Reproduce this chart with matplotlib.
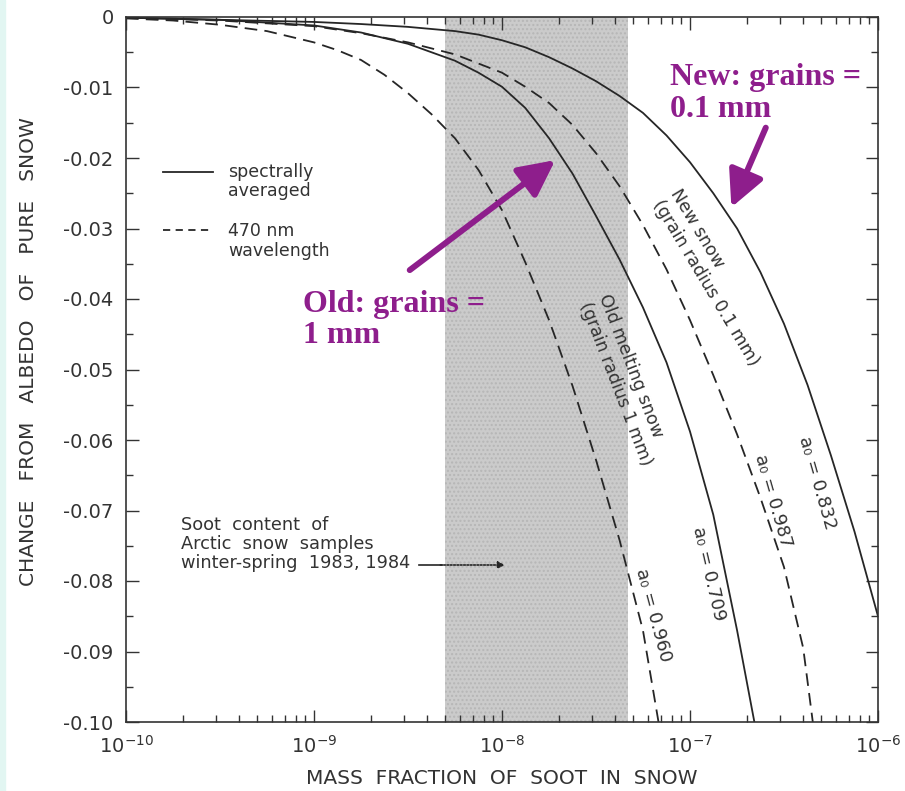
import numpy as np
import matplotlib
matplotlib.use("Agg")
import matplotlib.pyplot as plt
from matplotlib.ticker import (MultipleLocator, FuncFormatter, LogLocator, LogFormatterMathtext,
                               NullFormatter)
from matplotlib.patches import Rectangle

# soot mass fraction vs. change in snow albedo
old_470_x = [1e-10, 1.78e-10, 3.16e-10, 5.62e-10, 1e-9, 1.33e-9, 1.78e-9, 2.37e-9, 3.16e-9, 4.22e-9,
             5.62e-9, 7.5e-9, 1e-8, 1.33e-8, 1.78e-8, 2.37e-8, 3.16e-8, 4.22e-8, 5.62e-8, 6.8e-8]
old_470_y = [-0.0002, -0.0005, -0.0011, -0.0020, -0.0036, -0.0047, -0.0061, -0.0082, -0.0108, -0.0138,
             -0.0172, -0.0217, -0.0274, -0.0348, -0.043, -0.0523, -0.0628, -0.0742, -0.087, -0.100]

old_avg_x = [1e-10, 3.16e-10, 1e-9, 1.78e-9, 3.16e-9, 5.62e-9, 7.5e-9, 1e-8, 1.33e-8, 1.78e-8,
             2.37e-8, 3.16e-8, 4.22e-8, 5.62e-8, 7.5e-8, 1e-7, 1.33e-7, 1.78e-7, 2.2e-7]
old_avg_y = [-0.0001, -0.0004, -0.0012, -0.0022, -0.0038, -0.0062, -0.0079, -0.0099, -0.0129, -0.0172,
             -0.0222, -0.0282, -0.0344, -0.0412, -0.049, -0.0588, -0.0706, -0.087, -0.100]

new_470_x = [1e-10, 3.16e-10, 1e-9, 1.78e-9, 3.16e-9, 5.62e-9, 1e-8, 1.33e-8, 1.78e-8, 2.37e-8,
             3.16e-8, 4.22e-8, 5.62e-8, 7.5e-8, 1e-7, 1.33e-7, 1.78e-7, 2.37e-7, 3.16e-7, 4e-7, 4.5e-7]
new_470_y = [-0.0001, -0.0005, -0.0013, -0.0023, -0.0036, -0.0053, -0.0079, -0.0099, -0.0122, -0.0153,
             -0.0193, -0.024, -0.0295, -0.0358, -0.043, -0.0508, -0.0592, -0.0682, -0.078, -0.0895, -0.100]

new_avg_x = [1e-10, 3.16e-10, 1e-9, 1.78e-9, 3.16e-9, 5.62e-9, 7.5e-9, 1e-8, 1.33e-8, 1.78e-8,
             2.37e-8, 3.16e-8, 4.22e-8, 5.62e-8, 7.5e-8, 1e-7, 1.33e-7, 1.78e-7, 2.37e-7, 3.16e-7,
             4.22e-7, 5.62e-7, 7.5e-7, 1e-6]
new_avg_y = [-0.0001, -0.0004, -0.0007, -0.001, -0.0014, -0.002, -0.0025, -0.0033, -0.0043, -0.0057,
             -0.0073, -0.0091, -0.0112, -0.0136, -0.0168, -0.0206, -0.025, -0.030, -0.0362, -0.0435,
             -0.0522, -0.0622, -0.073, -0.085]

arctic_range = [4.97e-9, 4.7e-8]

ink = "#262626"
txt = "#333333"
purple = "#8E1E8C"
dash = (0, (7, 4))

fig = plt.figure(figsize=(9.05, 7.91), dpi=100)
fig.patches.append(Rectangle((0, 0), 5 / 905, 1, transform=fig.transFigure,
                             color="#e2f6f2", zorder=0))
ax = fig.add_axes([126 / 905, 1 - 722 / 791, 752 / 905, 705 / 791])

ax.axvspan(*arctic_range, facecolor="#cbcbcb", edgecolor="#b6b6b6",
           hatch="....", linewidth=0, zorder=0)

ax.plot(old_470_x, old_470_y, color=ink, lw=1.3, linestyle=dash)
ax.plot(old_avg_x, old_avg_y, color=ink, lw=1.3)
ax.plot(new_470_x, new_470_y, color=ink, lw=1.3, linestyle=dash)
ax.plot(new_avg_x, new_avg_y, color=ink, lw=1.3)

ax.set_xscale("log")
ax.set_xlim(1e-10, 1e-6)
ax.set_ylim(-0.1, 0)

ax.yaxis.set_major_locator(MultipleLocator(0.01))
ax.yaxis.set_minor_locator(MultipleLocator(0.005))
ax.yaxis.set_major_formatter(FuncFormatter(lambda v, p: "0" if abs(v) < 1e-9 else "%.2f" % v))
ax.xaxis.set_major_locator(LogLocator(base=10, numticks=10))
ax.xaxis.set_minor_locator(LogLocator(base=10, subs=np.arange(2, 10), numticks=10))
ax.xaxis.set_major_formatter(LogFormatterMathtext())
ax.xaxis.set_minor_formatter(NullFormatter())

ax.tick_params(which="both", direction="in", top=True, right=True, colors=txt, width=1)
ax.tick_params(which="major", length=9, labelsize=14, labelcolor=txt)
ax.tick_params(which="minor", length=5)
ax.tick_params(axis="y", pad=9)
ax.tick_params(axis="x", pad=9)
for s in ax.spines.values():
    s.set_color(txt)
    s.set_linewidth(1.2)

ax.set_ylabel("CHANGE   FROM   ALBEDO   OF   PURE   SNOW", fontsize=14.5, color=txt)
ax.yaxis.set_label_coords(-0.117, 0.526)
ax.set_xlabel("MASS  FRACTION  OF  SOOT  IN  SNOW", fontsize=14.5, color=txt, labelpad=9)

# key for line styles
ax.plot([0.049, 0.116], [0.780, 0.780], transform=ax.transAxes, color=ink, lw=1.3)
ax.plot([0.049, 0.116], [0.698, 0.698], transform=ax.transAxes, color=ink, lw=1.3, linestyle=(0, (4, 3)))
ax.text(0.1356, 0.767, "spectrally\naveraged", transform=ax.transAxes, va="center",
        fontsize=12.5, color=txt, linespacing=1.1)
ax.text(0.1356, 0.682, "470 nm\nwavelength", transform=ax.transAxes, va="center",
        fontsize=12.5, color=txt, linespacing=1.1)

ax.text(0.073, 0.2525, "Soot  content  of\nArctic  snow  samples\nwinter-spring  1983, 1984",
        transform=ax.transAxes, va="center", fontsize=12.8, color=txt, linespacing=1.1)
ax.plot([0.390, 0.420], [0.2227, 0.2227], transform=ax.transAxes, color=ink, lw=1.2)
ax.annotate("", xy=(0.504, 0.2227), xytext=(0.418, 0.2227),
            xycoords="axes fraction", textcoords="axes fraction",
            arrowprops=dict(arrowstyle="-|>", color=ink, lw=1.2, linestyle=(0, (1, 1)),
                            shrinkA=0, shrinkB=0))

# curve labels
ax.text(1.35e-7, -0.0369, "New snow\n(grain radius 0.1 mm)", rotation=-59, rotation_mode="anchor",
        ha="center", va="center", multialignment="left", fontsize=12.5, color=txt)
ax.text(4.53e-8, -0.0515, "Old melting snow\n(grain radius 1 mm)", rotation=-69, rotation_mode="anchor",
        ha="center", va="center", multialignment="left", fontsize=12.5, color=txt)
for x, y, lab, rot in [(4.73e-7, -0.0661, "a\u2080 = 0.832", -74),
                       (2.75e-7, -0.0687, "a\u2080 = 0.987", -74),
                       (1.26e-7, -0.0789, "a\u2080 = 0.709", -77),
                       (6.38e-8, -0.0848, "a\u2080 = 0.960", -75)]:
    ax.text(x, y, lab, rotation=rot, rotation_mode="anchor", ha="center", va="center",
            fontsize=13, color=txt)

# purple call-outs
ax.text(7.87e-8, -0.01085, "New: grains =\n0.1 mm", fontsize=23, fontweight="bold",
        family="Liberation Serif", color=purple, va="center", linespacing=1.1)
ax.text(8.69e-10, -0.043, "Old: grains =\n1 mm", fontsize=23, fontweight="bold",
        family="Liberation Serif", color=purple, va="center", linespacing=1.1)
arrow = dict(arrowstyle="-|>,head_length=1.1,head_width=0.55", color=purple, lw=4.3,
             mutation_scale=20, shrinkA=0, shrinkB=0)
ax.annotate("", xy=(1.92e-8, -0.0203), xytext=(3.23e-9, -0.0359), arrowprops=arrow)
ax.annotate("", xy=(1.66e-7, -0.027), xytext=(2.53e-7, -0.0157), arrowprops=arrow)

fig.savefig("out.png", dpi=100)
